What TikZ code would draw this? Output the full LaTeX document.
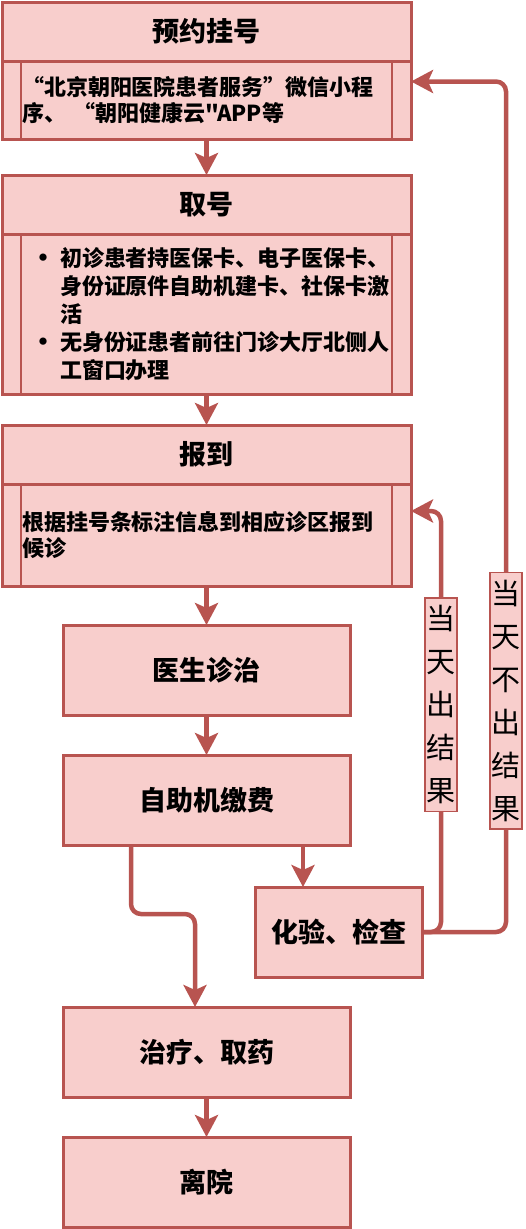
\documentclass[tikz,border=0pt]{standalone}
\usepackage{fontspec}
\setmainfont{Noto Sans CJK SC}[Ligatures=TeXOff]
\usetikzlibrary{positioning,arrows.meta}
\definecolor{boxfill}{HTML}{F8CECC}
\definecolor{boxline}{HTML}{B85450}

\begin{document}
\begin{tikzpicture}[x=1pt, y=-1pt,
  node distance=39pt,
  box/.style={draw=boxline, fill=boxfill, line width=3pt, outer sep=0pt, minimum width=287pt, minimum height=90pt, font=\bfseries\fontsize{27}{32}\selectfont},
  head/.style={box, minimum width=409pt, minimum height=59pt},
  body/.style={draw=boxline, fill=boxfill, line width=3pt, outer sep=0pt, minimum width=409pt, inner xsep=20pt, text width=369pt, align=left, font=\bfseries\fontsize{22}{26}\selectfont,
    path picture={\draw[boxline, line width=2.5pt]
      ([xshift=19pt]path picture bounding box.north west) -- ([xshift=19pt]path picture bounding box.south west)
      ([xshift=-19pt]path picture bounding box.north east) -- ([xshift=-19pt]path picture bounding box.south east);}},
  tag/.style={draw=boxline, fill=boxfill, line width=1.5pt, sharp corners, inner xsep=1.5pt, inner ysep=7.5pt, align=center, font=\fontsize{29}{43}\selectfont},
  link/.style={-{Stealth[length=22pt,width=23pt,inset=5pt]}, draw=boxline, line width=4.5pt}
]
\newcommand{\itemdot}{\hspace*{8.5pt}\makebox[29.5pt][l]{\fontsize{26}{28}\selectfont\raisebox{-1.5pt}{•}}}
\useasboundingbox (0,0) rectangle (525,1229);

% appointment, ticket, check-in
\node[head] (yuyue) at (206.5,31.5) {预约挂号};
\node[body, below=0pt of yuyue, minimum height=78pt] (yuyueb) {“北京朝阳医院患者服务”微信小程\\序、 “朝阳健康云"APP等};
\node[head, below=36pt of yuyueb] (quhao) {取号};
\node[body, below=0pt of quhao, minimum height=160pt, font=\bfseries\fontsize{22}{28}\selectfont] (quhaob) {%
  \itemdot 初诊患者持医保卡、电子医保卡、\\
  \hspace*{38pt}身份证原件自助机建卡、社保卡激\\
  \hspace*{38pt}活\\
  \itemdot 无身份证患者前往门诊大厅北侧人\\
  \hspace*{38pt}工窗口办理};
\node[head, below=31pt of quhaob] (baodao) {报到};
\node[body, below=0pt of baodao, minimum height=102pt] (baodaob) {根据挂号条标注信息到相应诊区报到\\候诊};

% visit and after
\node[box, below=39pt of baodaob] (yisheng) {医生诊治};
\node[box, below=40pt of yisheng] (jiaofei) {自助机缴费};
\node[box, below=42pt of jiaofei, xshift=132pt, minimum width=167pt] (huayan) {化验、检查};
\node[box, below=162pt of jiaofei] (zhiliao) {治疗、取药};
\node[box, below=40pt of zhiliao] (likai) {离院};

\draw[link] (yuyueb) -- (quhao);
\draw[link] (quhaob) -- (baodao);
\draw[link] (baodaob) -- (yisheng);
\draw[link] (yisheng) -- (jiaofei);
\draw[link] ([xshift=96.5pt]jiaofei.south) -- ([xshift=-35.5pt]huayan.north);
\draw[link] ([xshift=-75.5pt]jiaofei.south) [rounded corners=10pt] -- ++(0,69) -| ([xshift=-11.5pt]zhiliao.north) [sharp corners];
\draw[link] (zhiliao) -- (likai);

% results loops
\draw[link] (huayan.east) [rounded corners=10pt] -| node[tag, pos=0.77] (tianchu) {当\\天\\出\\结\\果} ([xshift=30pt,yshift=24pt]baodaob.east) -- ([yshift=24pt]baodaob.east) [sharp corners];
\draw[link] (huayan.east) [rounded corners=10pt] -| node[tag, pos=0.636] (tianbuchu) {当\\天\\不\\出\\结\\果} ([xshift=95pt,yshift=18.5pt]yuyueb.east) -- ([yshift=18.5pt]yuyueb.east) [sharp corners];

\end{tikzpicture}
\end{document}
